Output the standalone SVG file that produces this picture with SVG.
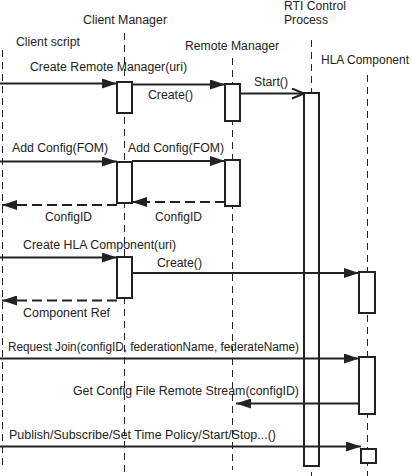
<svg xmlns="http://www.w3.org/2000/svg" width="412" height="476" viewBox="0 0 412 476">
<style>
text{font-family:"Liberation Sans",Arial,Helvetica,sans-serif;font-size:12px;fill:#222}
.life{stroke:#222;stroke-width:1;stroke-dasharray:7 5;fill:none}
.act{fill:#fff;stroke:#222;stroke-width:2}
.msg{stroke:#222;stroke-width:2;fill:none}
.ret{stroke:#222;stroke-width:2;fill:none;stroke-dasharray:10 5}
</style>
<defs>
<marker id="fa" viewBox="0 0 15 10" refX="15" refY="5" markerWidth="15" markerHeight="10" markerUnits="userSpaceOnUse" orient="auto">
<path d="M0,0 L15,5 L0,10 z" fill="#222"/>
</marker>
<marker id="oa" viewBox="0 0 14 12" refX="13" refY="6" markerWidth="14" markerHeight="12" markerUnits="userSpaceOnUse" orient="auto">
<path d="M1,1 L13,6 L1,11" fill="none" stroke="#222" stroke-width="2"/>
</marker>
</defs>
<g id="client-script">
<text x="16" y="46" textLength="64" lengthAdjust="spacingAndGlyphs">Client script</text>
<line class="life" x1="2.5" y1="50" x2="2.5" y2="466"/>
</g>
<g id="client-manager">
<text x="83" y="24" textLength="84" lengthAdjust="spacingAndGlyphs">Client Manager</text>
<line class="life" x1="124.5" y1="33" x2="124.5" y2="476"/>
<rect class="act" x="117" y="82" width="15" height="31"/>
<rect class="act" x="117" y="162" width="15" height="41"/>
<rect class="act" x="117" y="257" width="15" height="41"/>
</g>
<g id="remote-manager">
<text x="185" y="50" textLength="94" lengthAdjust="spacingAndGlyphs">Remote Manager</text>
<line class="life" x1="232.5" y1="58" x2="232.5" y2="470"/>
<rect class="act" x="225" y="84" width="15" height="37"/>
<rect class="act" x="225" y="160" width="15" height="46"/>
</g>
<g id="rti-control-process">
<text x="284" y="10" textLength="62" lengthAdjust="spacingAndGlyphs">RTI Control</text>
<text x="284" y="24" textLength="44" lengthAdjust="spacingAndGlyphs">Process</text>
<line class="life" x1="311.5" y1="40" x2="311.5" y2="476"/>
<rect class="act" x="304" y="93" width="15" height="373"/>
</g>
<g id="hla-component">
<text x="321" y="64" textLength="88" lengthAdjust="spacingAndGlyphs">HLA Component</text>
<line class="life" x1="367.5" y1="75" x2="367.5" y2="476"/>
<rect class="act" x="359" y="272" width="16" height="41"/>
<rect class="act" x="359" y="357" width="16" height="57"/>
<rect class="act" x="361" y="449" width="15" height="14"/>
</g>
<g id="connectors">
<path class="msg" d="M0,83.5 H117" marker-end="url(#fa)"/>
<text x="30" y="71" textLength="157" lengthAdjust="spacingAndGlyphs">Create Remote Manager(uri)</text>
<path class="msg" d="M132,84.5 H225" marker-end="url(#fa)"/>
<text x="148" y="99" textLength="45" lengthAdjust="spacingAndGlyphs">Create()</text>
<path class="msg" d="M240,93.5 H304" marker-end="url(#oa)"/>
<text x="254" y="86" textLength="34" lengthAdjust="spacingAndGlyphs">Start()</text>
<path class="msg" d="M0,161.5 H117" marker-end="url(#fa)"/>
<text x="12" y="152" textLength="96" lengthAdjust="spacingAndGlyphs">Add Config(FOM)</text>
<path class="msg" d="M132,161 H225" marker-end="url(#fa)"/>
<text x="128" y="152" textLength="96" lengthAdjust="spacingAndGlyphs">Add Config(FOM)</text>
<path class="ret" d="M117,205 H2" marker-end="url(#fa)"/>
<text x="45" y="220.5" textLength="47" lengthAdjust="spacingAndGlyphs">ConfigID</text>
<path class="ret" d="M225,202 H132" marker-end="url(#fa)"/>
<text x="155" y="220.5" textLength="47" lengthAdjust="spacingAndGlyphs">ConfigID</text>
<path class="msg" d="M0,257.5 H117" marker-end="url(#fa)"/>
<text x="23" y="249" textLength="153" lengthAdjust="spacingAndGlyphs">Create HLA Component(uri)</text>
<path class="msg" d="M132,273 H359" marker-end="url(#fa)"/>
<text x="157" y="267" textLength="45" lengthAdjust="spacingAndGlyphs">Create()</text>
<path class="ret" d="M117,300.5 H2" marker-end="url(#fa)"/>
<text x="23" y="317" textLength="87" lengthAdjust="spacingAndGlyphs">Component Ref</text>
<path class="msg" d="M0,358.5 H359" marker-end="url(#fa)"/>
<text x="8" y="350.5" textLength="291" lengthAdjust="spacingAndGlyphs">Request Join(configID, federationName, federateName)</text>
<path class="msg" d="M359,403.5 H236" marker-end="url(#fa)"/>
<text x="73" y="395" textLength="226" lengthAdjust="spacingAndGlyphs">Get Config File Remote Stream(configID)</text>
<path class="msg" d="M0,446.5 H361" marker-end="url(#fa)"/>
<text x="9" y="439" textLength="267" lengthAdjust="spacingAndGlyphs">Publish/Subscribe/Set Time Policy/Start/Stop...()</text>
</g>
</svg>
